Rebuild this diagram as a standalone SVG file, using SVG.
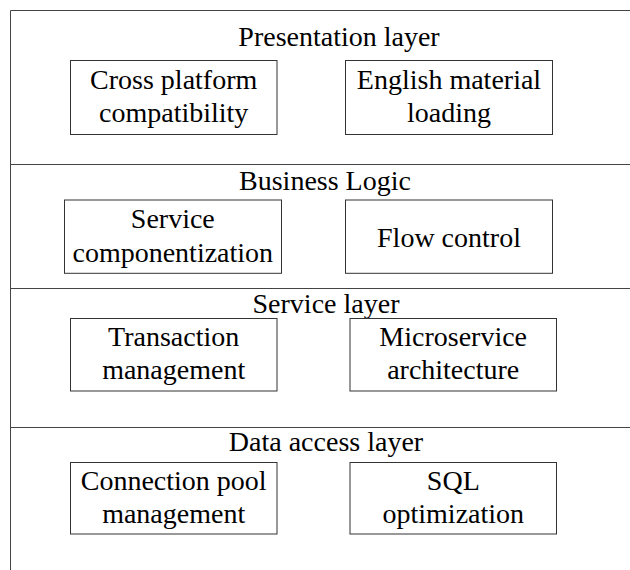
<svg xmlns="http://www.w3.org/2000/svg" width="630" height="570" viewBox="0 0 630 570">
<style>
.frame{stroke:#444;stroke-width:1;fill:none}
.box{stroke:#333;stroke-width:1;fill:#fff}
.t{font-family:'Liberation Serif','DejaVu Serif',serif;font-size:28px;fill:#000;text-anchor:middle}
</style>
<rect width="630" height="570" fill="#fff"/>
<g id="layers">
<line class="frame" x1="10.5" y1="10.5" x2="10.5" y2="570"/>
<line class="frame" x1="10.5" y1="10.5" x2="630" y2="10.5"/>
<line class="frame" x1="10.5" y1="164.5" x2="630" y2="164.5"/>
<line class="frame" x1="10.5" y1="288.5" x2="630" y2="288.5"/>
<line class="frame" x1="10.5" y1="427.5" x2="630" y2="427.5"/>
</g>
<g class="t" font-family="Liberation Serif, DejaVu Serif, serif">
<g id="presentation-layer">
<text x="339" y="46">Presentation layer</text>
<g id="cross-platform">
<rect class="box" x="70.5" y="60.5" width="206.5" height="74"/>
<text x="173.7" y="89.3">Cross platform</text>
<text x="173.7" y="122">compatibility</text>
</g>
<g id="english-material">
<rect class="box" x="345.5" y="60.5" width="207" height="74"/>
<text x="449" y="89.3">English material</text>
<text x="449" y="122">loading</text>
</g>
</g>
<g id="business-logic">
<text x="325" y="190">Business Logic</text>
<g id="service-componentization">
<rect class="box" x="64.5" y="200" width="217" height="73.3"/>
<text x="172.8" y="228.3">Service</text>
<text x="172.8" y="261.5">componentization</text>
</g>
<g id="flow-control">
<rect class="box" x="345.5" y="200" width="207" height="73.3"/>
<text x="449" y="246.7">Flow control</text>
</g>
</g>
<g id="service-layer">
<text x="326" y="313">Service layer</text>
<g id="transaction-management">
<rect class="box" x="70.5" y="318.5" width="206.5" height="72.5"/>
<text x="173.7" y="346">Transaction</text>
<text x="173.7" y="378.5">management</text>
</g>
<g id="microservice-architecture">
<rect class="box" x="350" y="318.5" width="206.5" height="72.5"/>
<text x="453.2" y="346">Microservice</text>
<text x="453.2" y="378.5">architecture</text>
</g>
</g>
<g id="data-access-layer">
<text x="326" y="451">Data access layer</text>
<g id="connection-pool">
<rect class="box" x="70.5" y="462.5" width="206.5" height="71.5"/>
<text x="173.7" y="490">Connection pool</text>
<text x="173.7" y="523">management</text>
</g>
<g id="sql-optimization">
<rect class="box" x="350" y="462.5" width="206.5" height="71.5"/>
<text x="453.3" y="490">SQL</text>
<text x="453.3" y="523">optimization</text>
</g>
</g>
</g>
</svg>
